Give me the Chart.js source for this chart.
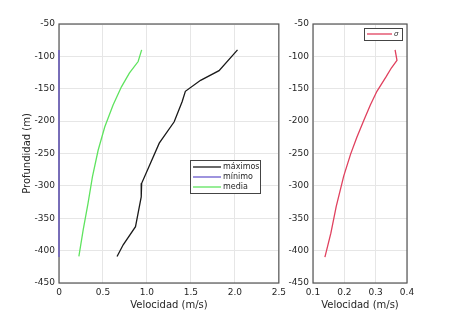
<!DOCTYPE html>
<html>
<head>
<meta charset="utf-8">
<script src="https://cdn.jsdelivr.net/npm/chart.js@4"></script>
<style>
  body { margin: 0; background: #fff; }
  .box { position: absolute; top: 0; height: 318px; }
  #left { left: 0; width: 290px; }
  #right { left: 282px; width: 168px; }
</style>
</head>
<body>
<div class="box" id="left"><canvas id="velChart"></canvas></div>
<div class="box" id="right"><canvas id="sigmaChart"></canvas></div>
<script>
// profundidad (m) de cada perfil
const depthMax = [-90, -122, -137, -154, -170, -201, -234, -268, -296, -317, -363, -391, -409];
const velMax   = [2.03, 1.82, 1.61, 1.437, 1.40, 1.31, 1.14, 1.03, 0.94, 0.935, 0.87, 0.73, 0.66];

const depthMin = [-90, -410];
const velMin   = [0, 0];

const depthMedia = [-90, -108, -126, -147, -175, -209, -245, -286, -327, -368, -409];
const velMedia   = [0.94, 0.90, 0.80, 0.71, 0.615, 0.52, 0.445, 0.38, 0.33, 0.275, 0.226];

const depthSigma = [-90, -106, -118, -131, -154, -175, -199, -225, -251, -285, -332, -373, -410];
const velSigma   = [0.362, 0.368, 0.350, 0.334, 0.304, 0.283, 0.262, 0.240, 0.220, 0.198, 0.174, 0.157, 0.138];

const yTicks = [-450, -400, -350, -300, -250, -200, -150, -100, -50];

const FONT = 'DejaVu Sans';
const TXT = '#262626';

function pts(xs, ys) {
    return xs.map((v, i) => ({ x: v, y: ys[i] }));
}

function line(label, xs, ys, color) {
    return {
        label: label,
        data: pts(xs, ys),
        showLine: true,
        borderColor: color,
        backgroundColor: color,
        borderWidth: 1.3,
        pointRadius: 0,
        tension: 0,
        clip: 3
    };
}

// caja completa (antes de las curvas) + leyenda a mano (estilo matlab)
const boxLegend = {
    id: 'boxLegend',
    beforeDatasetsDraw(chart) {
        const a = chart.chartArea;
        const c = chart.ctx;
        c.save();
        c.strokeStyle = '#555';
        c.lineWidth = 1.2;
        c.strokeRect(a.left, a.top, a.right - a.left, a.bottom - a.top);
        c.restore();
    },
    afterDatasetsDraw(chart, args, opts) {
        const L = opts.box;
        if (!L) return;
        const c = chart.ctx;
        c.save();
        c.fillStyle = '#fff';
        c.fillRect(L.x, L.y, L.w, L.h);
        c.strokeStyle = '#444';
        c.lineWidth = 1;
        c.strokeRect(L.x + 0.5, L.y + 0.5, L.w, L.h);
        c.font = (L.italic ? 'italic ' : '') + L.size + 'px ' + FONT;
        c.textBaseline = 'middle';
        chart.data.datasets.forEach((ds, i) => {
            const yy = L.y + L.pad + i * L.row + L.row / 2;
            c.strokeStyle = ds.borderColor;
            c.lineWidth = 1.3;
            c.beginPath();
            c.moveTo(L.x + 3, yy);
            c.lineTo(L.x + 3 + L.lineLen, yy);
            c.stroke();
            c.fillStyle = TXT;
            c.fillText(ds.label, L.x + 5 + L.lineLen, yy);
        });
        c.restore();
    }
};

function yScale(width, title) {
    return {
        type: 'linear',
        min: -450, max: -50,
        afterBuildTicks: s => { s.ticks = yTicks.map(v => ({ value: v })); },
        afterFit: s => { s.width = width; },
        grid: { color: '#e6e6e6', drawTicks: false },
        border: { display: false },
        ticks: { color: TXT, font: { family: FONT, size: 9 }, padding: 4 },
        title: { display: !!title, text: title, color: TXT, font: { family: FONT, size: 10 }, padding: 0 }
    };
}

function xScale(min, max, step) {
    return {
        type: 'linear',
        min: min, max: max,
        afterFit: s => { s.height = 28; },
        grid: { color: '#e6e6e6', drawTicks: false },
        border: { display: false },
        ticks: { stepSize: step, color: TXT, font: { family: FONT, size: 9 }, padding: 4 },
        title: { display: true, text: 'Velocidad (m/s)', color: TXT, font: { family: FONT, size: 10 }, padding: 0 }
    };
}

new Chart(document.getElementById('velChart'), {
    type: 'scatter',
    data: {
        datasets: [
            line('máximos', velMax, depthMax, '#1a1a1a'),
            line('mínimo', velMin, depthMin, '#6a5acd'),
            line('media', velMedia, depthMedia, '#5fe35f')
        ]
    },
    options: {
        responsive: true,
        maintainAspectRatio: false,
        animation: false,
        layout: { padding: { top: 24, right: 10, left: 21, bottom: 7 } },
        scales: {
            x: xScale(0, 2.5, 0.5),
            y: yScale(38, 'Profundidad (m)')
        },
        plugins: {
            legend: { display: false },
            tooltip: { enabled: false },
            boxLegend: { box: { x: 190, y: 160, w: 70, h: 33, pad: 2, row: 10, lineLen: 28, size: 8 } }
        }
    },
    plugins: [boxLegend]
});

new Chart(document.getElementById('sigmaChart'), {
    type: 'scatter',
    data: {
        datasets: [line('σ', velSigma, depthSigma, '#e0405e')]
    },
    options: {
        responsive: true,
        maintainAspectRatio: false,
        animation: false,
        layout: { padding: { top: 24, right: 43, left: 0, bottom: 7 } },
        scales: {
            x: xScale(0.1, 0.4, 0.1),
            y: yScale(31, '')
        },
        plugins: {
            legend: { display: false },
            tooltip: { enabled: false },
            boxLegend: { box: { x: 82, y: 28, w: 38, h: 12, pad: 1, row: 10, lineLen: 25, size: 7, italic: true } }
        }
    },
    plugins: [boxLegend]
});
</script>
</body>
</html>
